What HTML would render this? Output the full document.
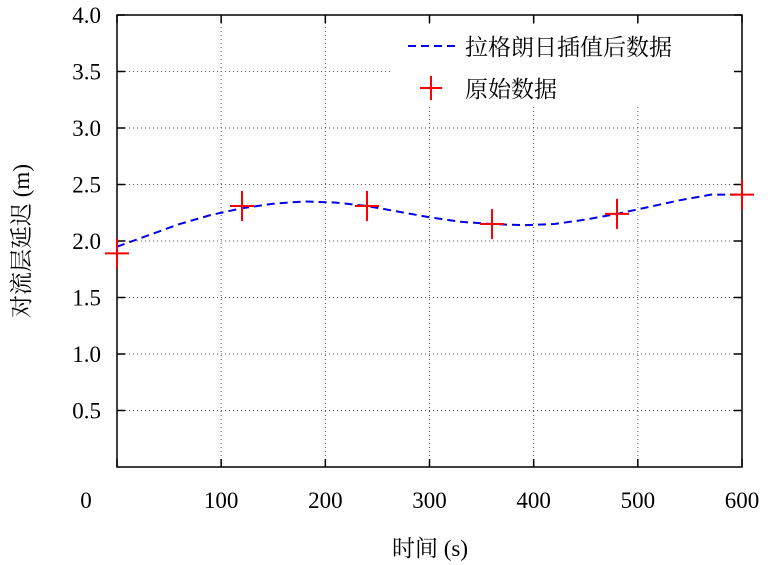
<!DOCTYPE html>
<html><head><meta charset="utf-8"><style>
html,body{margin:0;padding:0;background:#fff;}
svg{display:block;font-family:"Liberation Serif","Noto Serif CJK SC",serif;}
</style></head><body>
<svg id="chart" width="768" height="565" viewBox="0 0 768 565"></svg>
<script>
const xTicks=[0,100,200,300,400,500,600];
const yTicks=[0.5,1.0,1.5,2.0,2.5,3.0,3.5,4.0];
const yTickLabels=["0.5","1.0","1.5","2.0","2.5","3.0","3.5","4.0"];
const rawX=[0,120,240,360,480,600];
const rawY=[1.89,2.31,2.31,2.15,2.24,2.41];
const curveX=[0,30,60,90,120,150,180,210,240,270,300,330,360,390,420,450,480,510,540,570,600];
const curveY=[1.95,2.05,2.15,2.23,2.29,2.33,2.35,2.34,2.31,2.26,2.21,2.17,2.15,2.14,2.15,2.19,2.24,2.30,2.36,2.41,2.41];
const L=117,R=742,T=15,B=467;
const sx=v=>L+(v-0)/600*(R-L);
const sy=v=>B-(v-0)/4*(B-T);
const svg=document.getElementById('chart');
const NS='http://www.w3.org/2000/svg';
function mk(tag,a,parent){const e=document.createElementNS(NS,tag);for(const k in a)e.setAttribute(k,a[k]);(parent||svg).appendChild(e);return e;}
xTicks.forEach(v=>{if(v>0&&v<600){const g=mk('line',{x1:sx(v),x2:sx(v),y1:T,y2:B,stroke:'#555','stroke-width':1,'stroke-dasharray':'1,3'});

}});
yTicks.forEach(v=>{if(v<4){const g=mk('line',{x1:L,x2:R,y1:sy(v),y2:sy(v),stroke:'#555','stroke-width':1,'stroke-dasharray':'1,3'});

}});
const lb=mk('rect',{x:392,y:25,width:348,height:82,fill:'#fff'});


const fr=mk('rect',{x:L,y:T,width:R-L,height:B-T,fill:'none',stroke:'#000','stroke-width':1.5});


xTicks.forEach(v=>{
 mk('line',{x1:sx(v),x2:sx(v),y1:B,y2:B-8,stroke:'#000','stroke-width':1.5});
 mk('line',{x1:sx(v),x2:sx(v),y1:T,y2:T+8,stroke:'#000','stroke-width':1.5});
 const t=mk('text',{x:v===0?86:sx(v),y:508,'font-size':23,'text-anchor':'middle'});t.textContent=v;
 
 
});
yTicks.forEach((v,i)=>{
 mk('line',{x1:L,x2:L+8,y1:sy(v),y2:sy(v),stroke:'#000','stroke-width':1.5});
 mk('line',{x1:R,x2:R-8,y1:sy(v),y2:sy(v),stroke:'#000','stroke-width':1.5});
 const t=mk('text',{x:101,y:sy(v)+8,'font-size':23,'text-anchor':'end'});t.textContent=yTickLabels[i];
 
 
});
const xt=mk('text',{x:430,y:556,'font-size':23,'text-anchor':'middle'});xt.textContent='时间 (s)';


const yt=mk('text',{x:0,y:0,'font-size':23,'text-anchor':'middle',transform:'translate(29,241) rotate(-90)'});yt.textContent='对流层延迟 (m)';


const pts=curveX.map((x,i)=>sx(x)+','+sy(curveY[i])).join(' ');
const cl=mk('polyline',{points:pts,fill:'none',stroke:'#0000ee','stroke-width':2,'stroke-dasharray':'8,5'});


rawX.forEach((x,i)=>{
 const g=mk('g',{});
 
 
 const cx=sx(x),cy=sy(rawY[i]);
 mk('line',{x1:cx-12,x2:cx+12,y1:cy,y2:cy,stroke:'#f00','stroke-width':2},g);
 mk('line',{x1:cx,x2:cx,y1:cy-15,y2:cy+15,stroke:'#f00','stroke-width':2},g);
});
const l1=mk('line',{x1:408,x2:456,y1:46,y2:46,stroke:'#0000ee','stroke-width':2,'stroke-dasharray':'8,5'});


const t1=mk('text',{x:465,y:55,'font-size':23});t1.textContent='拉格朗日插值后数据';


const lg=mk('g',{});


mk('line',{x1:420,x2:442,y1:88,y2:88,stroke:'#f00','stroke-width':2},lg);
mk('line',{x1:431,x2:431,y1:76,y2:100,stroke:'#f00','stroke-width':2},lg);
const t2=mk('text',{x:465,y:97,'font-size':23});t2.textContent='原始数据';


</script>
</body></html>
